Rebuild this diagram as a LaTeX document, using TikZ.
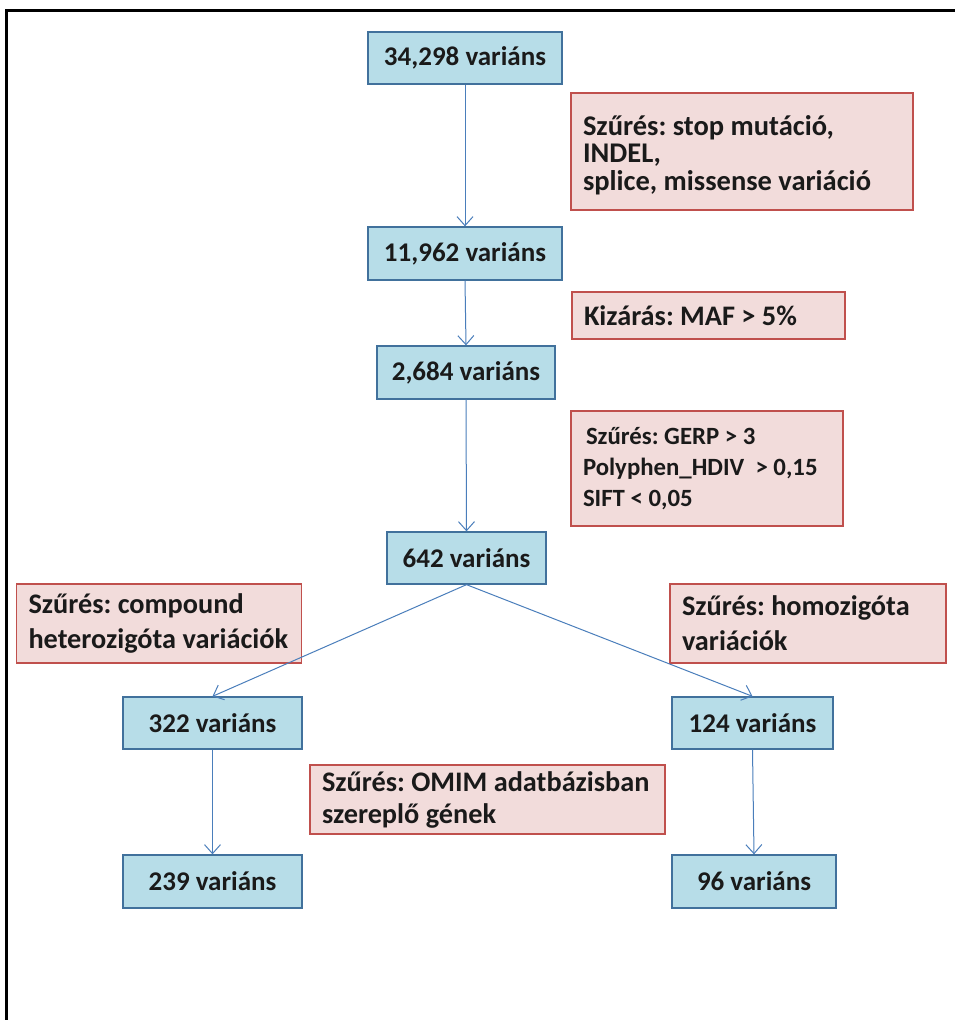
\documentclass[tikz,border=0pt]{standalone}
\usepackage{fontspec}
\setmainfont{Carlito}
\usetikzlibrary{arrows.meta}
\frenchspacing

\definecolor{countfill}{HTML}{B7DDE8}
\definecolor{countline}{HTML}{41719C}
\definecolor{filterfill}{HTML}{F2DCDB}
\definecolor{filterline}{HTML}{C0504D}
\definecolor{flow}{HTML}{4A7EBB}
\definecolor{ink}{HTML}{1A1A1A}

% use the font's own interword space inside aligned nodes
\newcommand\fontspaces{\spaceskip=0pt\xspaceskip=0pt\relax}

\tikzset{
  countbox/.style={draw=countline, fill=countfill, line width=1.3pt, inner sep=0pt,
    text=ink, font=\bfseries\fontsize{27}{30}\selectfont},
  filterbox/.style 2 args={draw=filterline, fill=filterfill, line width=1.3pt,
    inner xsep=12pt, inner ysep=0pt, align=left, text=ink,
    font=\bfseries\fontsize{#1}{#2}\selectfont},
  flowarrow/.style={draw=flow, line width=1pt, -{Straight Barb[length=9pt,width=16pt]}},
  frame/.style={draw=black, line width=3pt},
}

\begin{document}
\begin{tikzpicture}[x=1pt, y=-1pt]
  \useasboundingbox (0,0) rectangle (955,1020);
  \fill[white] (0,0) rectangle (955,1020);
  \draw[frame] (6,1020) -- (6,10) -- (955,10);

  % variant counts
  \node[countbox, minimum width=194pt, minimum height=52pt] (v34) at (465,58) {34,298 variáns};
  \node[countbox, minimum width=194pt, minimum height=53pt] (v11) at (465,253.5) {11,962 variáns};
  \node[countbox, minimum width=178pt, minimum height=53pt] (v2) at (466,372.5) {2,684 variáns};
  \node[countbox, minimum width=159pt, minimum height=52pt] (v642) at (466.5,558) {642 variáns};
  \node[countbox, minimum width=179pt, minimum height=52pt] (v322) at (212.5,723) {322 variáns};
  \node[countbox, minimum width=161pt, minimum height=52pt] (v124) at (752.5,723) {124 variáns};
  \node[countbox, minimum width=179pt, minimum height=53pt] (v239) at (212.5,881.5) {239 variáns};
  \node[countbox, minimum width=164pt, minimum height=53pt] (v96) at (754,881.5) {96 variáns};

  % filtering steps
  \node[filterbox={28.5}{27.5}, text width=318pt, minimum height=117pt] (f1) at (742,151.5)
    {\fontspaces\mbox{}\\[-0.5pt]Szűrés: stop mutáció,\\INDEL,\\splice, missense variáció};
  \node[filterbox={28.3}{31}, text width=249pt, minimum height=47pt] (f2) at (708.5,315.5)
    {\fontspaces Kizárás: MAF > 5\%};
  \node[filterbox={24.8}{31}, text width=248pt, minimum height=115pt] (f3) at (707,468.5)
    {\fontspaces\hspace{3pt}Szűrés: GERP > 3\\Polyphen\_HDIV\ \ > 0,15\\SIFT < 0,05};
  \node[filterbox={28.3}{35}, text width=261pt, minimum height=79pt] (fl) at (159,623.5)
    {\fontspaces Szűrés: compound\\heterozigóta variációk};
  \node[filterbox={28.3}{35}, text width=252pt, minimum height=79pt] (fr) at (808,623.5)
    {\fontspaces Szűrés: homozigóta\\variációk};
  \node[filterbox={28.3}{32}, text width=331pt, minimum height=69pt] (fm) at (487.5,799.5)
    {\fontspaces Szűrés: OMIM adatbázisban\\szereplő gének};

  % flow
  \draw[flowarrow] (v34.south) -- (v11.north);
  \draw[flowarrow] (v11.south) -- (v2.north);
  \draw[flowarrow] (v2.south) -- (v642.north);
  \draw[flowarrow] (v642.south) -- (v322.north);
  \draw[flowarrow] (v642.south) -- (v124.north);
  \draw[flowarrow] (v322.south) -- (v239.north);
  \draw[flowarrow] (v124.south) -- (v96.north);
\end{tikzpicture}
\end{document}
